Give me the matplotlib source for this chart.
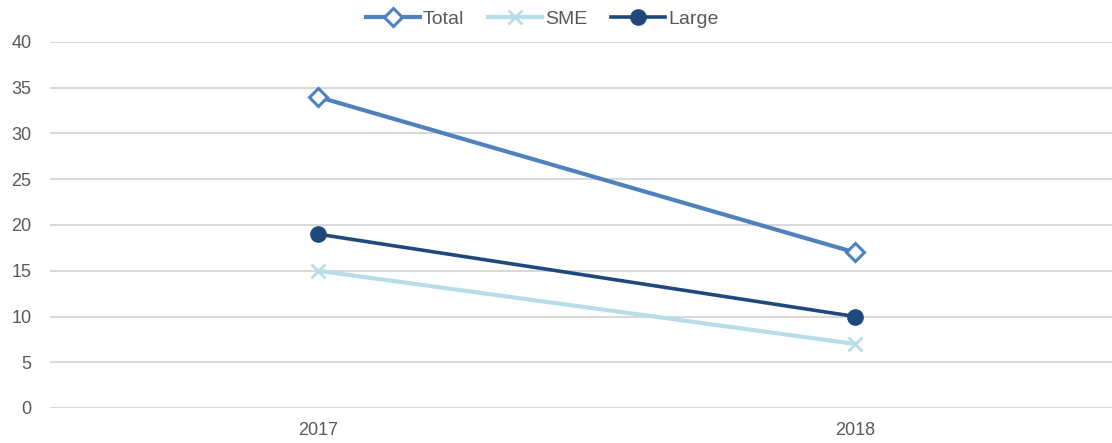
import matplotlib
matplotlib.use("Agg")
import matplotlib.pyplot as plt

plt.rcParams['font.family'] = ['Liberation Sans', 'DejaVu Sans']

years = ["2017", "2018"]
total = [34, 17]
sme = [15, 7]
large = [19, 10]

fig = plt.figure(figsize=(11.12, 4.43), dpi=100)
ax = fig.add_axes([49.5/1112, 1-408/443, 1-49.5/1112, (408-42)/443])

x = list(range(len(years)))
ax.plot(x, total, color='#4F81BD', lw=3, marker='D', ms=9, mfc='white', mec='#4F81BD', mew=2.2, label='Total', zorder=3)
ax.plot(x, sme, color='#B7DEE8', lw=3, marker='x', ms=10, mec='#B7DEE8', mew=2, label='SME', zorder=3)
ax.plot(x, large, color='#1F497D', lw=2.6, marker='o', ms=11, mfc='#1F497D', mec='#1F497D', label='Large', zorder=3)

ax.set_ylim(0, 40)
ax.set_yticks(range(0, 41, 5))
ax.set_xlim(-0.5, (1112-318)/537)
ax.set_xticks(x)
ax.set_xticklabels(years)
ax.grid(axis='y', color='#D9D9D9', lw=1.5)
ax.set_axisbelow(True)
for s in ax.spines.values():
    s.set_visible(False)
ax.tick_params(length=0, labelsize=13, colors='#595959')
ax.tick_params(axis='x', pad=10)
ax.tick_params(axis='y', pad=13)

leg = fig.legend(loc='center', bbox_to_anchor=(542/1112, 1-19/443), ncol=3, frameon=False,
                 fontsize=14, handlelength=2.8, columnspacing=1.2, handletextpad=0.15)
for t in leg.get_texts():
    t.set_color('#595959')

fig.savefig('out.png', dpi=100)
